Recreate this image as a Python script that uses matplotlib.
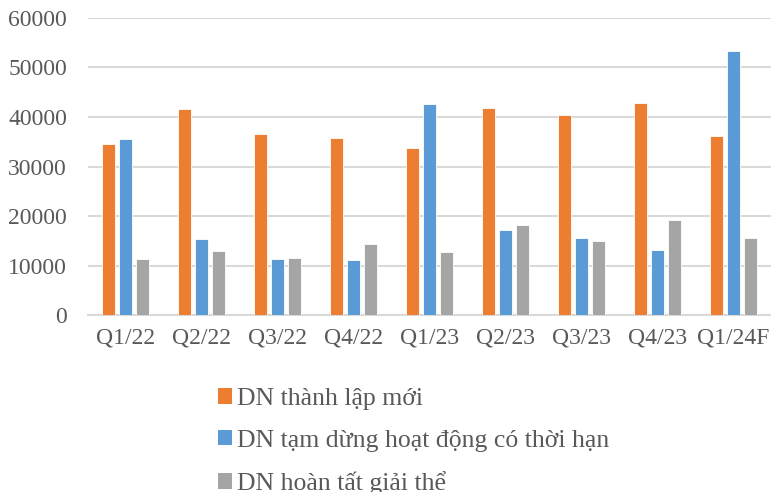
import numpy as np
import matplotlib.pyplot as plt
from matplotlib.patches import Patch

quarters = ['Q1/22', 'Q2/22', 'Q3/22', 'Q4/22', 'Q1/23', 'Q2/23', 'Q3/23', 'Q4/23', 'Q1/24F']
thanh_lap = [34500, 41600, 36500, 35700, 33800, 41900, 40400, 42900, 36100]
tam_dung = [35600, 15300, 11400, 11200, 42700, 17200, 15500, 13200, 53300]
giai_the = [11400, 13000, 11600, 14300, 12700, 18200, 15000, 19300, 15500]
series_names = ['DN thành lập mới', 'DN tạm dừng hoạt động có thời hạn', 'DN hoàn tất giải thể']
colors = ['#ED7D31', '#5B9BD5', '#A5A5A5']

plt.rcParams['font.family'] = ['Liberation Serif', 'DejaVu Serif']
text_color = '#595959'

fig = plt.figure(figsize=(7.71, 4.92), dpi=100)
ax = fig.add_axes([0.114, 0.359, 0.886, 0.605])

x = np.arange(len(quarters))
w = 0.171
step = 0.224
for i, vals in enumerate([thanh_lap, tam_dung, giai_the]):
    ax.bar(x + (i - 1) * step, vals, width=w, color=colors[i],
           edgecolor='white', linewidth=0.6, zorder=3)

ax.set_xlim(-0.5, len(quarters) - 0.5)
ax.set_ylim(0, 60000)
ax.set_yticks(np.arange(0, 60001, 10000))
ax.set_xticks(x)
ax.set_xticklabels(quarters)
ax.yaxis.grid(True, color='#D9D9D9', linewidth=1.5, zorder=0)
for s in ['top', 'right', 'left']:
    ax.spines[s].set_visible(False)
ax.spines['bottom'].set_color('#D9D9D9')
ax.spines['bottom'].set_linewidth(1.5)
ax.tick_params(length=0, labelsize=17, colors=text_color)
ax.tick_params(axis='y', pad=15)
ax.tick_params(axis='x', pad=9)

# legend sits under the plot, third entry runs past the bottom edge
handles = [Patch(facecolor=c) for c in colors]
fig.legend(handles, series_names, loc='upper left', bbox_to_anchor=(0.269, 0.232),
           frameon=False, fontsize=18.5, labelcolor=text_color,
           handlelength=0.55, handleheight=0.55, handletextpad=0.2,
           labelspacing=0.76, borderaxespad=0)

fig.savefig('out.png', dpi=100)
